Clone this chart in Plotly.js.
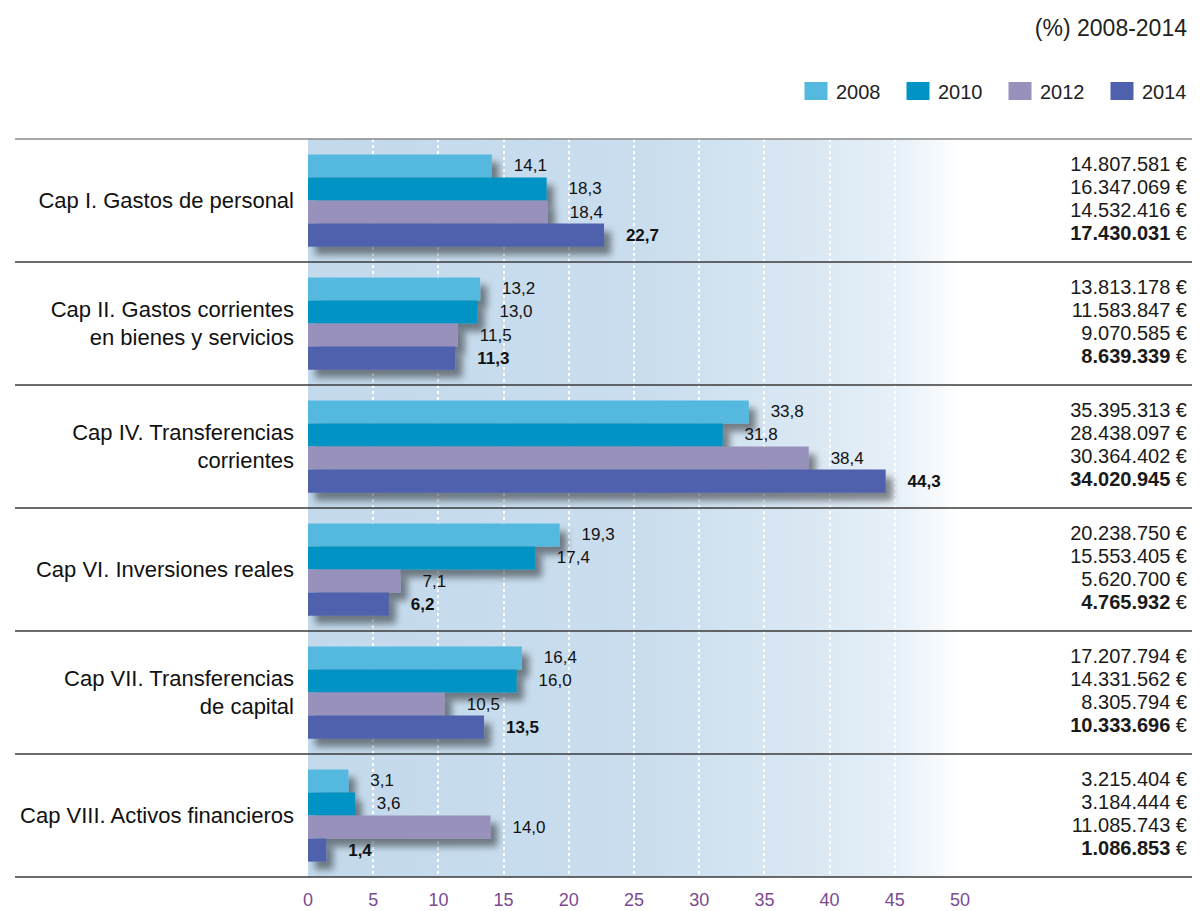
<!DOCTYPE html>
<html>
<head>
<meta charset="utf-8">
<script src="https://cdn.plot.ly/plotly-3.0.1.min.js"></script>
<style>
  html, body { margin: 0; padding: 0; background: #ffffff; }
  #chart { width: 1200px; height: 911px; }
</style>
</head>
<body>
<div id="chart"></div>
<script>
// ---------------- DATA ----------------
const categories = [
  "Cap I. Gastos de personal",
  "Cap II. Gastos corrientes<br>en bienes y servicios",
  "Cap IV. Transferencias<br>corrientes",
  "Cap VI. Inversiones reales",
  "Cap VII. Transferencias<br>de capital",
  "Cap VIII. Activos financieros"
];
const years = ["2008", "2010", "2012", "2014"];
const pct2008 = [14.1, 13.2, 33.8, 19.3, 16.4, 3.1];
const pct2010 = [18.3, 13.0, 31.8, 17.4, 16.0, 3.6];
const pct2012 = [18.4, 11.5, 38.4, 7.1, 10.5, 14.0];
const pct2014 = [22.7, 11.3, 44.3, 6.2, 13.5, 1.4];
const eur2008 = ["14.807.581", "13.813.178", "35.395.313", "20.238.750", "17.207.794", "3.215.404"];
const eur2010 = ["16.347.069", "11.583.847", "28.438.097", "15.553.405", "14.331.562", "3.184.444"];
const eur2012 = ["14.532.416", "9.070.585", "30.364.402", "5.620.700", "8.305.794", "11.085.743"];
const eur2014 = ["17.430.031", "8.639.339", "34.020.945", "4.765.932", "10.333.696", "1.086.853"];
const xTicks = [0, 5, 10, 15, 20, 25, 30, 35, 40, 45, 50];
const chartTitle = "(%) 2008-2014";

// ---------------- STYLE ----------------
const NARROW = '"Liberation Sans Narrow", "Arial Narrow", "Liberation Sans", Arial, sans-serif';
const REG = '"Liberation Sans", Arial, Helvetica, sans-serif';
const colors = ["#55b9df", "#0093c3", "#9891bb", "#4f61ad"];
const pctSeries = [pct2008, pct2010, pct2012, pct2014];
const eurSeries = [eur2008, eur2010, eur2012, eur2014];
const GAP = "\u00a0\u00a0\u00a0\u00a0";

const traces = [];
years.forEach((yr, i) => {
  const bold = i === 3;
  traces.push({
    type: "bar",
    orientation: "h",
    name: yr,
    x: pctSeries[i],
    y: categories,
    marker: { color: colors[i], line: { width: 0 } },
    texttemplate: bold ? GAP + "<b>%{x:.1f}</b>" : GAP + "%{x:.1f}",
    textposition: "outside",
    constraintext: "none",
    cliponaxis: false,
    textfont: { family: NARROW, size: 17, color: "#111111" },
    hoverinfo: "skip"
  });
});
years.forEach((yr, i) => {
  const bold = i === 3;
  traces.push({
    type: "scatter",
    mode: "text",
    orientation: "h",
    xaxis: "x2",
    offsetgroup: yr,
    alignmentgroup: "eur",
    x: eurSeries[i].map(() => 1),
    y: categories,
    text: eurSeries[i].map(v => (bold ? "<b>" + v + "</b>" : v) + " €"),
    textposition: "middle left",
    textfont: { family: REG, size: 20, color: "#1a1a1a" },
    cliponaxis: false,
    showlegend: false,
    hoverinfo: "skip"
  });
});

const gradSvg = '<svg xmlns="http://www.w3.org/2000/svg" width="100" height="100" viewBox="0 0 100 100" preserveAspectRatio="none">' +
  '<defs><linearGradient id="g" x1="0" y1="0" x2="1" y2="0">' +
  '<stop offset="0" stop-color="#c3daec"/>' +
  '<stop offset="0.5" stop-color="#c9ddee"/>' +
  '<stop offset="0.7" stop-color="#d5e5f2"/>' +
  '<stop offset="0.8" stop-color="#dde9f4"/>' +
  '<stop offset="0.9" stop-color="#e6f0f8"/>' +
  '<stop offset="0.95" stop-color="#f2f7fb"/>' +
  '<stop offset="1" stop-color="#ffffff"/>' +
  '</linearGradient></defs><rect x="0" y="0" width="100" height="100" fill="url(#g)"/></svg>';

const L = 308, R = 13, PW = 1200 - L - R;
const px = v => (v - L) / PW; // pixel -> paper fraction (x)

const shapes = [];
for (let k = 0; k <= categories.length; k++) {
  shapes.push({
    type: "line", xref: "paper", yref: "paper",
    x0: px(15), x1: px(1192),
    y0: k / categories.length, y1: k / categories.length,
    line: { color: k === categories.length ? "#8a8a8a" : "#3a3a3a", width: 1.5 },
    layer: "above"
  });
}

const layout = {
  width: 1200,
  height: 911,
  margin: { l: L, r: R, t: 139, b: 34, autoexpand: false },
  paper_bgcolor: "#ffffff",
  plot_bgcolor: "rgba(0,0,0,0)",
  separators: ",.",
  barmode: "group",
  bargap: 0.25,
  bargroupgap: 0,
  scattermode: "group",
  scattergap: 0.25,
  showlegend: true,
  title: {
    text: chartTitle,
    font: { family: REG, size: 23, color: "#222222" },
    x: 1, xref: "paper", xanchor: "right",
    y: 1 - 28 / 911, yref: "container", yanchor: "middle"
  },
  legend: {
    orientation: "h",
    x: px(1204), xanchor: "right",
    y: 1 + (139 - 91) / 738, yanchor: "middle",
    font: { family: REG, size: 20, color: "#222222" },
    traceorder: "normal",
    itemwidth: 30,
    entrywidth: 57,
    entrywidthmode: "pixels",
    bgcolor: "rgba(0,0,0,0)"
  },
  xaxis: {
    range: [0, 50 + (1187 - 960) / 13.04],
    tickvals: xTicks,
    ticktext: xTicks.map(String),
    showgrid: true,
    gridcolor: "#ffffff",
    gridwidth: 2,
    griddash: "dot",
    zeroline: false,
    showline: false,
    ticks: "",
    ticklabelstandoff: 10,
    tickfont: { family: NARROW, size: 18, color: "#7b4a91" },
    fixedrange: true
  },
  xaxis2: {
    overlaying: "x",
    range: [0, 1],
    visible: false,
    fixedrange: true
  },
  yaxis: {
    type: "category",
    autorange: false,
    range: [categories.length - 0.5, -0.5],
    showgrid: false,
    zeroline: false,
    showline: false,
    ticks: "",
    ticklabelstandoff: 13,
    tickfont: { family: NARROW, size: 22, color: "#111111" },
    fixedrange: true
  },
  images: [{
    source: "data:image/svg+xml;charset=utf-8," + encodeURIComponent(gradSvg),
    xref: "x", yref: "paper",
    x: 0, y: 1, sizex: 50, sizey: 1,
    sizing: "stretch",
    xanchor: "left", yanchor: "top",
    layer: "below"
  }],
  shapes: shapes
};

Plotly.newPlot("chart", traces, layout, { displayModeBar: false, staticPlot: true }).then(gd => {
  const svg = gd.querySelector("svg.main-svg");
  const ns = "http://www.w3.org/2000/svg";
  let defs = svg.querySelector("defs");
  if (!defs) { defs = document.createElementNS(ns, "defs"); svg.insertBefore(defs, svg.firstChild); }
  const f = document.createElementNS(ns, "filter");
  f.setAttribute("id", "barShadow");
  f.setAttribute("filterUnits", "userSpaceOnUse");
  f.setAttribute("x", "-500"); f.setAttribute("y", "-500");
  f.setAttribute("width", "2500"); f.setAttribute("height", "2500");
  const ds = document.createElementNS(ns, "feDropShadow");
  ds.setAttribute("dx", "7"); ds.setAttribute("dy", "8");
  ds.setAttribute("stdDeviation", "3.5");
  ds.setAttribute("flood-color", "#000000");
  ds.setAttribute("flood-opacity", "0.45");
  f.appendChild(ds);
  defs.appendChild(f);
  gd.querySelectorAll(".barlayer .point path").forEach(p => p.setAttribute("filter", "url(#barShadow)"));
  // larger legend swatches, like the reference
  gd.querySelectorAll(".legend .legendpoints path").forEach(p => p.setAttribute("d", "M11.5,9H-11.5V-9H11.5Z"));
});
</script>
</body>
</html>
